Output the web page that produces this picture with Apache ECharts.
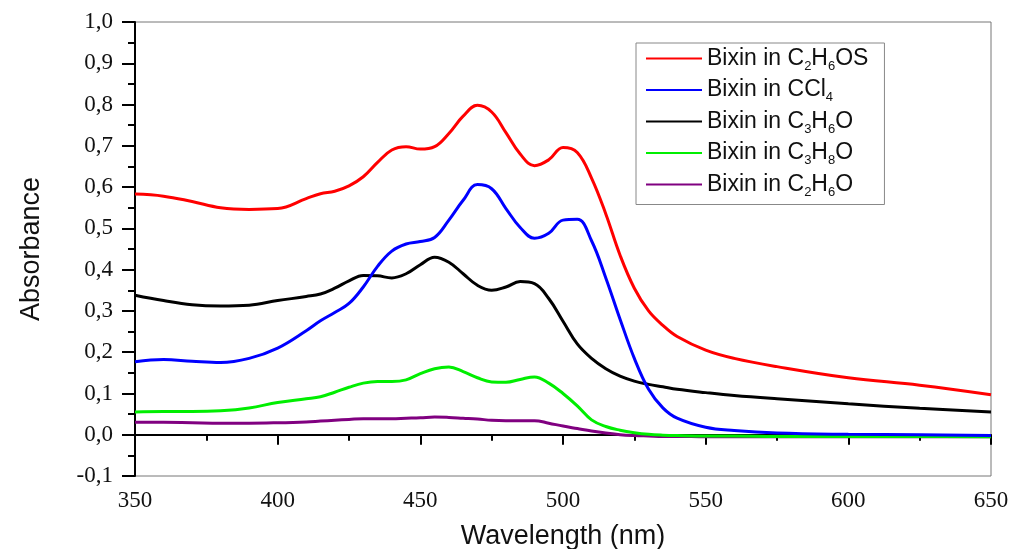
<!DOCTYPE html>
<html>
<head>
<meta charset="utf-8">
<script src="https://cdn.jsdelivr.net/npm/echarts@6/dist/echarts.min.js"></script>
<style>
  html, body { margin: 0; padding: 0; background: #fff; }
  #chart { width: 1013px; height: 549px; }
</style>
</head>
<body>
<div id="chart"></div>
<script>
// wavelength grid (nm), shared by all spectra
var wavelengths = [350, 360, 370, 380, 390, 400, 410, 415, 420, 425, 430, 435, 440, 445, 450, 455, 460, 465, 470, 475,
  480, 485, 490, 495, 500, 505, 510, 515, 520, 525, 530, 535, 540, 550, 560, 575, 600, 625, 650]

// absorbance
var dmso = [0.583, 0.578, 0.565, 0.550, 0.546, 0.548, 0.572, 0.584, 0.590, 0.603, 0.625, 0.660, 0.690, 0.698, 0.692, 0.698, 0.730, 0.772, 0.798, 0.782,
  0.732, 0.680, 0.652, 0.666, 0.696, 0.684, 0.622, 0.535, 0.435, 0.355, 0.300, 0.265, 0.238, 0.205, 0.185, 0.165, 0.138, 0.120, 0.097]
var ccl4 = [0.177, 0.182, 0.178, 0.175, 0.185, 0.210, 0.252, 0.276, 0.296, 0.318, 0.358, 0.408, 0.445, 0.462, 0.468, 0.478, 0.520, 0.568, 0.606, 0.596,
  0.548, 0.502, 0.476, 0.488, 0.520, 0.522, 0.470, 0.380, 0.280, 0.185, 0.110, 0.065, 0.040, 0.018, 0.010, 0.004, 0.001, 0.000, -0.002]
var acetone = [0.338, 0.325, 0.315, 0.312, 0.314, 0.325, 0.335, 0.341, 0.355, 0.373, 0.386, 0.385, 0.380, 0.390, 0.412, 0.430, 0.418, 0.390, 0.362, 0.350,
  0.358, 0.371, 0.366, 0.330, 0.275, 0.220, 0.185, 0.160, 0.142, 0.130, 0.122, 0.116, 0.110, 0.102, 0.095, 0.087, 0.075, 0.064, 0.055]
var propanol = [0.055, 0.056, 0.056, 0.058, 0.065, 0.078, 0.087, 0.092, 0.103, 0.115, 0.125, 0.129, 0.129, 0.133, 0.148, 0.160, 0.164, 0.153, 0.138, 0.128,
  0.127, 0.134, 0.140, 0.125, 0.100, 0.070, 0.036, 0.020, 0.011, 0.005, 0.001, -0.001, -0.002, -0.003, -0.003, -0.004, -0.004, -0.004, -0.005]
var ethanol = [0.030, 0.030, 0.029, 0.028, 0.028, 0.029, 0.031, 0.033, 0.035, 0.037, 0.039, 0.039, 0.039, 0.040, 0.041, 0.043, 0.042, 0.040, 0.038, 0.035,
  0.034, 0.034, 0.034, 0.028, 0.021, 0.015, 0.009, 0.004, 0.000, -0.002, -0.003, -0.004, -0.004, -0.005, -0.005, -0.005, -0.005, -0.005, -0.005]

var seriesNames = ['Bixin in C2H6OS', 'Bixin in CCl4', 'Bixin in C3H6O', 'Bixin in C3H8O', 'Bixin in C2H6O']
var seriesColors = ['#ff0000', '#0000ff', '#000000', '#00ee00', '#800080']
var seriesValues = [dmso, ccl4, acetone, propanol, ethanol]

function pairs(vals) {
  return wavelengths.map(function (w, i) { return [w, vals[i]] })
}

// digits after a letter become subscripts in the legend
function subLabel(name) {
  return name.replace(/([A-Za-z])(\d)/g, '$1{s|$2}')
}

var chart = echarts.init(document.getElementById('chart'), null, { renderer: 'canvas' })

var series = seriesNames.map(function (n, i) {
  return {
    name: n,
    type: 'line',
    data: pairs(seriesValues[i]),
    smooth: 0.4,
    showSymbol: false,
    lineStyle: { color: seriesColors[i], width: 3 },
    itemStyle: { color: seriesColors[i] },
    z: 10 - i
  }
})

var option = {
  animation: false,
  backgroundColor: '#fff',
  grid: {
    left: 135, right: 22, top: 22, bottom: 73,
    outerBoundsMode: 'none',
    containLabel: false,
    show: true, borderColor: '#777', borderWidth: 1
  },
  legend: {
    orient: 'vertical',
    left: 636, top: 43,
    padding: [4, 16, 6, 10],
    itemGap: 6,
    itemWidth: 56, itemHeight: 2,
    icon: 'rect',
    backgroundColor: '#fff',
    borderColor: '#888',
    borderWidth: 1,
    borderRadius: 0,
    formatter: subLabel,
    textStyle: {
      fontFamily: 'Liberation Sans',
      fontSize: 23,
      color: '#111',
      rich: {
        s: { fontSize: 13, fontFamily: 'Liberation Sans', color: '#111', padding: [15, 0, 0, 0] }
      }
    }
  },
  xAxis: {
    type: 'value',
    min: 350, max: 650, interval: 50,
    name: 'Wavelength (nm)',
    nameLocation: 'middle',
    nameGap: 47,
    nameTextStyle: { fontFamily: 'Liberation Sans', fontSize: 27, color: '#111' },
    axisLine: { lineStyle: { color: '#000', width: 2 } },
    axisTick: { length: 10, lineStyle: { color: '#000', width: 2 } },
    minorTick: { show: true, splitNumber: 2, length: 6, lineStyle: { color: '#000', width: 2 } },
    splitLine: { show: false },
    axisLabel: { fontFamily: 'Liberation Serif', fontSize: 23, color: '#111', margin: 13 }
  },
  yAxis: {
    type: 'value',
    min: -0.1, max: 1.0, interval: 0.1,
    name: 'Absorbance',
    nameLocation: 'middle',
    nameGap: 90,
    nameRotate: 90,
    nameTextStyle: { fontFamily: 'Liberation Sans', fontSize: 27, color: '#111' },
    axisLine: { lineStyle: { color: '#000', width: 2 } },
    axisTick: { length: 13, lineStyle: { color: '#000', width: 2 } },
    minorTick: { show: true, splitNumber: 2, length: 7, lineStyle: { color: '#000', width: 2 } },
    splitLine: { show: false },
    axisLabel: {
      fontFamily: 'Liberation Serif', fontSize: 23, color: '#111', margin: 22,
      formatter: function (v) { return v.toFixed(1).replace('.', ',') }
    }
  },
  series: series
}

chart.setOption(option)
</script>
</body>
</html>
